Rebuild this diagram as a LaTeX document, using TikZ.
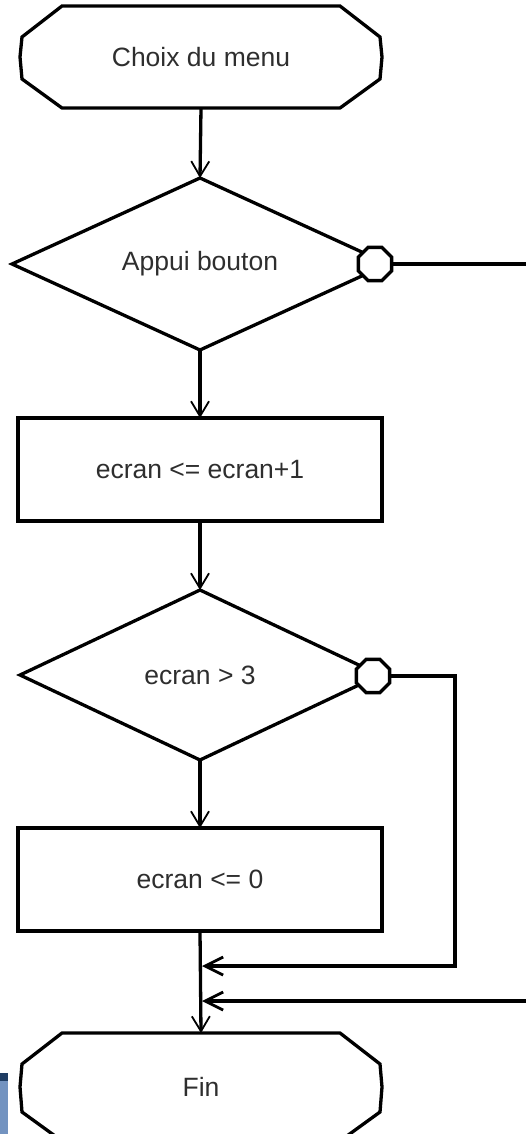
\documentclass[tikz,border=0pt]{standalone}
\usepackage{fontspec}
\setmainfont{Liberation Sans}
\usetikzlibrary{arrows.meta,shapes.geometric}
\definecolor{txt}{HTML}{2E2E2E}
\definecolor{navyband}{HTML}{1F3D63}
\definecolor{steelband}{HTML}{7393C0}
\begin{document}
\begin{tikzpicture}[x=1pt,y=-1pt,
  lw/.style={line width=3.3pt},
  lbl/.style={font=\fontsize{26.5}{30}\selectfont, text=txt},
  boxnode/.style={draw, lw, lbl, minimum width=364pt, minimum height=103pt, inner sep=0pt, outer sep=0pt},
  decision/.style={draw, lw, lbl, shape=diamond, aspect=2.2, inner sep=0pt, outer sep=0pt},
  termnode/.style={lbl, minimum width=362pt, minimum height=102pt, inner sep=0pt, outer sep=0pt},
  connector/.style={draw, fill=white, lw, shape=regular polygon, regular polygon sides=8, minimum size=36pt, inner sep=0pt, outer sep=0pt},
  flow/.style={lw, -{Straight Barb[length=15pt,width=18pt,line width=1.8pt]}},
  merge/.style={lw, -{Straight Barb[length=18pt,width=18pt,line width=2.8pt]}}
]
\useasboundingbox (0,0) rectangle (526,1134);

% terminals
\node[termnode] (t1) at (201,57) {Choix du menu};
\draw[lw] ([xshift=42pt]t1.north west) -- ([xshift=-42pt]t1.north east)
  -- ([xshift=-2pt,yshift=-31pt]t1.north east) -- (t1.east)
  -- ([xshift=-2pt,yshift=29pt]t1.south east) -- ([xshift=-42pt]t1.south east)
  -- ([xshift=42pt]t1.south west) -- ([xshift=2pt,yshift=29pt]t1.south west)
  -- (t1.west) -- ([xshift=2pt,yshift=-31pt]t1.north west) -- cycle;

\node[termnode, minimum height=108pt] (t2) at (201,1087) {Fin};
\draw[lw] ([xshift=42pt]t2.north west) -- ([xshift=-42pt]t2.north east)
  -- ([xshift=-2pt,yshift=-31pt]t2.north east) -- (t2.east)
  -- ([xshift=-2pt,yshift=29pt]t2.south east) -- ([xshift=-42pt]t2.south east)
  -- ([xshift=42pt]t2.south west) -- ([xshift=2pt,yshift=29pt]t2.south west)
  -- (t2.west) -- ([xshift=2pt,yshift=-31pt]t2.north west) -- cycle;

% decisions and steps
\node[decision, minimum width=376pt, minimum height=172pt] (d1) at (200,264) {Appui bouton};
\node[connector] (c1) at (375,264) {};
\node[boxnode] (r1) at (200,469.5) {ecran <= ecran+1};
\node[decision, minimum width=360pt, minimum height=170pt] (d2) at (200,675) {ecran > 3};
\node[connector] (c2) at (373,676) {};
\node[boxnode] (r2) at (200,879.5) {ecran <= 0};

% main flow
\draw[flow] (t1.south) -- (d1.north);
\draw[flow] (d1.south) -- (r1.north);
\draw[flow] (r1.south) -- (d2.north);
\draw[flow] (d2.south) -- (r2.north);
\draw[flow] (r2.south) -- (t2.north);

% loops back
\coordinate (j2) at (202,966);
\coordinate (k2) at (455,966);
\coordinate (j1) at (202,1001);
\coordinate (k1) at (527.5,1001);
\draw[merge] (c2.east) -| (k2) -- (j2);
\draw[merge] (c1.east) -| (k1) -- (j1);

% stray band at bottom left
\fill[navyband] (0,1073) rectangle (8,1081);
\fill[steelband] (0,1081) rectangle (8,1134);
\end{tikzpicture}
\end{document}
